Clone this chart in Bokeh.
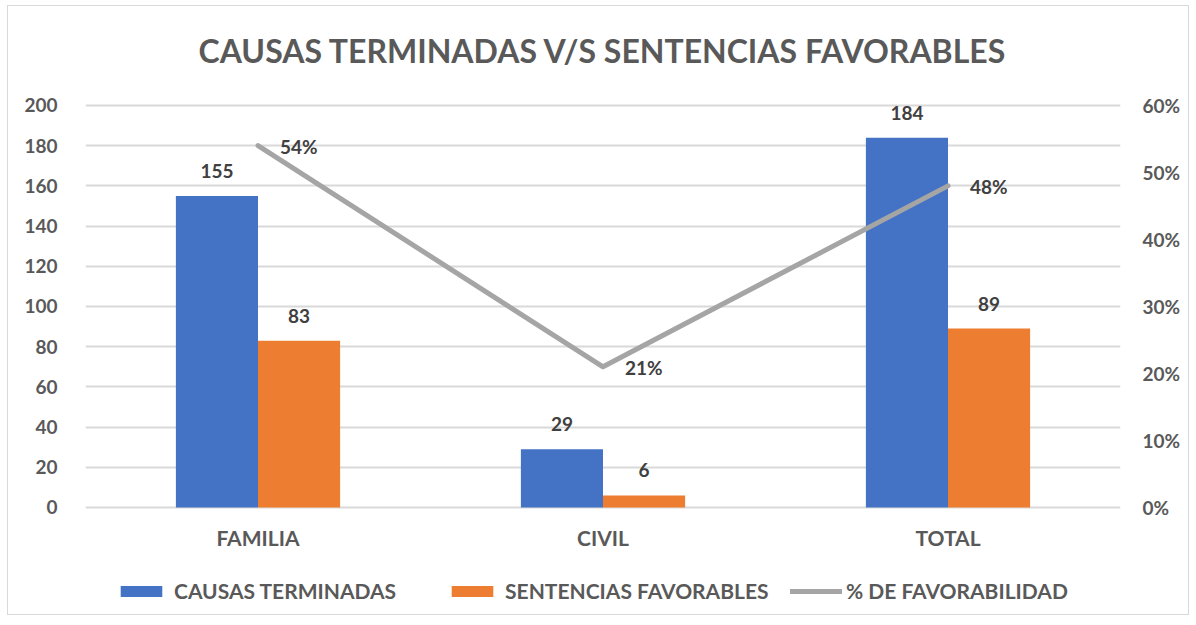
from bokeh.plotting import figure
from bokeh.models import (ColumnDataSource, FactorRange, Range1d, LinearAxis, FixedTicker,
                          NumeralTickFormatter, LabelSet, Legend, LegendItem, Label)
from bokeh.core.properties import value
from bokeh.transform import dodge
from bokeh.embed import file_html
from bokeh.resources import INLINE

categories = ["FAMILIA", "CIVIL", "TOTAL"]
causas = [155, 29, 184]
sentencias = [83, 6, 89]
favorabilidad = [0.54, 0.21, 0.48]
pct_labels = ["54%", "21%", "48%"]
left_ticks = [0, 20, 40, 60, 80, 100, 120, 140, 160, 180, 200]
right_ticks = [0, 0.1, 0.2, 0.3, 0.4, 0.5, 0.6]
series_names = ["CAUSAS TERMINADAS", "SENTENCIAS FAVORABLES", "% DE FAVORABILIDAD"]

title_text = "CAUSAS TERMINADAS V/S SENTENCIAS FAVORABLES"
FONT = "Lato"
FS = "21px"
NFS = "19px"
GRAY_TXT = "#595959"
LBL_TXT = "#404040"
BLUE = "#4472C4"
ORANGE = "#ED7D31"
LINE = "#A5A5A5"
GRID = "#D9D9D9"

# frame extends above/below the value area to host title, category labels and legend
Y_LO, Y_HI = -52.24, 247.26
RATIO = 0.6 / 200

src = ColumnDataSource(dict(
    cat=categories, causas=causas, sentencias=sentencias, fav=favorabilidad, zero=[0] * 3,
    causas_lbl=[str(v) for v in causas], sent_lbl=[str(v) for v in sentencias], pct_lbl=pct_labels,
))

p = figure(x_range=FactorRange(*categories, range_padding=0), y_range=Range1d(Y_LO, Y_HI),
           width=1182, height=610, output_backend="svg", toolbar_location=None,
           min_border_left=77, min_border_right=70, min_border_top=4, min_border_bottom=4)
p.styles = {"margin": "5px 0px 0px 7px", "border": "1px solid #D9D9D9"}
p.outline_line_color = None
p.extra_y_ranges = {"pct": Range1d(Y_LO * RATIO, Y_HI * RATIO)}

bw = 0.238
r1 = p.vbar(x=dodge("cat", -bw / 2, range=p.x_range), top="causas", width=bw, source=src,
            fill_color=BLUE, line_color=None)
r2 = p.vbar(x=dodge("cat", bw / 2, range=p.x_range), top="sentencias", width=bw, source=src,
            fill_color=ORANGE, line_color=None)
r3 = p.line(x="cat", y="fav", source=src, y_range_name="pct", line_color=LINE, line_width=5,
            line_cap="round", line_join="round")

# Axes
p.xaxis.visible = False
p.yaxis.ticker = FixedTicker(ticks=left_ticks)
for ax in p.yaxis:
    ax.axis_line_color = None
    ax.major_tick_line_color = None
    ax.minor_tick_line_color = None
    ax.major_label_text_font = FONT
    ax.major_label_text_font_style = "bold"
    ax.major_label_text_font_size = NFS
    ax.major_label_text_color = GRAY_TXT
    ax.major_label_standoff = 22

rax = LinearAxis(y_range_name="pct", ticker=FixedTicker(ticks=right_ticks),
                 formatter=NumeralTickFormatter(format="0%"))
rax.axis_line_color = None
rax.major_tick_line_color = None
rax.minor_tick_line_color = None
rax.major_label_text_font = FONT
rax.major_label_text_font_style = "bold"
rax.major_label_text_font_size = NFS
rax.major_label_text_color = GRAY_TXT
rax.major_label_standoff = 16
p.add_layout(rax, "right")

p.xgrid.grid_line_color = None
p.ygrid.grid_line_color = GRID
p.ygrid.grid_line_width = 2

# Category labels under the baseline
p.add_layout(LabelSet(x="cat", y="zero", text="cat", source=src, text_font=value(FONT),
                      text_font_style=value("bold"), text_font_size=value(FS),
                      text_color=value(GRAY_TXT), text_align=value("center"),
                      text_baseline=value("middle"), y_offset=-30))

# Data labels
common = dict(text_font=value(FONT), text_font_style=value("bold"), text_font_size=value(NFS),
              text_color=value(LBL_TXT), text_baseline=value("middle"), source=src)
p.add_layout(LabelSet(x=dodge("cat", -bw / 2, range=p.x_range), y="causas", text="causas_lbl",
                      text_align=value("center"), y_offset=25, **common))
p.add_layout(LabelSet(x=dodge("cat", bw / 2, range=p.x_range), y="sentencias", text="sent_lbl",
                      text_align=value("center"), y_offset=25, **common))
p.add_layout(LabelSet(x="cat", y="fav", y_range_name="pct", text="pct_lbl",
                      text_align=value("left"), x_offset=22, y_offset=-1, **common))

# Title
p.add_layout(Label(x=1.5, y=227.4, text=title_text, text_font=FONT, text_font_style="bold",
                   text_font_size="32px", text_color=GRAY_TXT, text_align="center",
                   text_baseline="middle"))

leg_style = dict(orientation="horizontal", glyph_width=52, glyph_height=14,
                 label_text_font=FONT, label_text_font_style="bold", label_text_font_size=FS,
                 label_text_color=GRAY_TXT, border_line_color=None, background_fill_alpha=0,
                 margin=0, padding=4)
legend1 = Legend(items=[LegendItem(label=series_names[0], renderers=[r1]),
                        LegendItem(label=series_names[1], renderers=[r2])],
                 location=(30, 9), label_standoff=7, spacing=50, **leg_style)
legend2 = Legend(items=[LegendItem(label=series_names[2], renderers=[r3])],
                 location=(705, 9), label_standoff=4, **leg_style)
p.add_layout(legend1, "center")
p.add_layout(legend2, "center")

open("out.html", "w").write(file_html(p, INLINE))
